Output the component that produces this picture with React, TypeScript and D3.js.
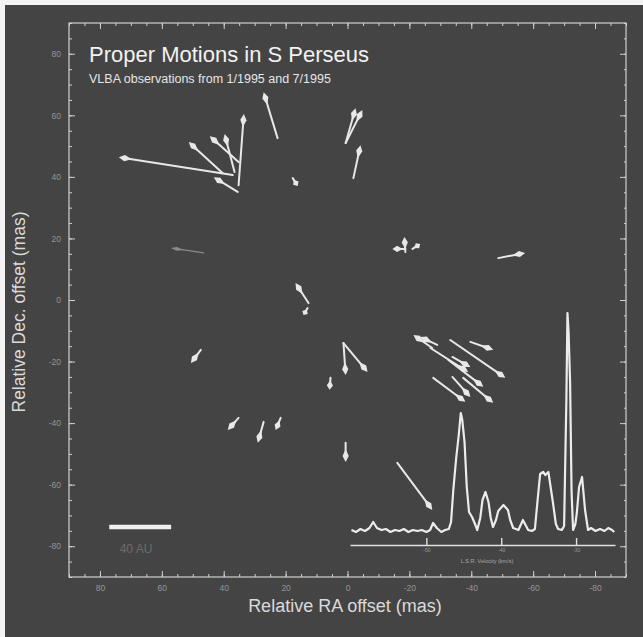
import React, { useEffect, useRef } from "react";
import * as d3 from "d3";

// ---- Proper motion vectors (mas): tail -> head ----
const tailRA = [37.1, 40.3, 35.2, 36.5, 35.2, 35.5, 22.6, 17.7, 0.6, 0.6, -1.9, 46.5, -18.7, -18.7, -21.0, -48.7, 12.6, 12.9, 47.4, 1.3, 1.3, 5.5, 35.2, 27.1, 21.6, 0.6, -27.4, -29.0, -26.8, -32.6, -33.2, -39.7, -33.9, -27.7, -33.9, -37.4, -16.1];
const tailDec = [40.6, 41.2, 44.8, 41.6, 37.3, 35.1, 52.6, 39.6, 51.0, 51.0, 39.6, 15.3, 15.6, 16.6, 16.6, 13.6, -1.0, -2.6, -16.2, -14.0, -14.0, -25.3, -38.3, -39.6, -38.3, -46.4, -15.6, -14.6, -15.6, -19.5, -13.0, -13.6, -18.5, -25.3, -25.0, -25.3, -52.9];
const headRA = [73.9, 51.3, 44.5, 39.7, 33.5, 43.2, 27.1, 16.1, -2.6, -4.8, -4.2, 57.1, -18.4, -14.5, -23.5, -57.4, 16.8, 14.2, 50.6, 0.6, -6.5, 5.8, 38.7, 29.0, 23.2, 0.6, -21.3, -23.5, -39.0, -43.9, -51.0, -47.1, -39.7, -38.1, -39.7, -47.1, -27.4];
const headDec = [46.4, 51.3, 53.2, 53.9, 60.4, 39.9, 67.5, 37.0, 62.3, 61.7, 50.3, 16.9, 20.5, 16.6, 18.2, 15.3, 5.5, -4.9, -20.5, -24.4, -23.4, -29.2, -42.2, -46.4, -42.2, -52.6, -11.4, -12.0, -23.4, -28.2, -25.3, -16.2, -21.8, -33.1, -31.5, -33.4, -68.2];
const faintArrow = [11];

// ---- Axis ticks ----
const majorTicks = [-80, -60, -40, -20, 0, 20, 40, 60, 80];
const minorTicks = d3.range(-90, 91, 5);

// ---- Inset H2O maser spectrum ----
const specVelocity = [-60.0, -59.4, -58.8, -58.2, -57.6, -57.1, -56.6, -56.0, -55.4, -54.8, -54.2, -53.6, -53.0, -52.4, -51.8, -51.2, -50.6, -50.0, -49.5, -49.1, -48.6, -48.0, -47.5, -47.0, -46.7, -46.4, -46.0, -45.7, -45.4, -45.2, -44.9, -44.6, -44.3, -43.9, -43.5, -43.2, -42.8, -42.5, -42.1, -41.7, -41.4, -41.1, -40.7, -40.4, -39.7, -39.1, -38.8, -38.4, -37.7, -37.1, -36.4, -35.9, -35.5, -35.1, -34.8, -34.4, -34.1, -33.7, -33.4, -33.1, -32.7, -32.4, -31.9, -31.6, -31.3, -31.15, -31.0, -30.8, -30.6, -30.4, -30.1, -29.9, -29.6, -29.2, -28.8, -28.4, -28.0, -27.4, -26.8, -26.2, -25.7, -25.2, -24.9];
const specFlux = [2, 0, 3, 1, 4, 10, 4, 2, 3, 0, 2, 1, 3, 0, 2, 1, 2, 0, 2, 9, 4, 0, 2, 3, 10, 42, 75, 95, 119, 112, 90, 45, 20, 15, 8, 2, 14, 32, 40, 30, 14, 5, 12, 21, 27, 22, 12, 4, 2, 12, 2, 1, 3, 35, 58, 60, 57, 60, 45, 30, 8, 3, 2, 6, 130, 219, 200, 150, 40, 2, 8, 19, 45, 55, 22, 2, 4, 1, 3, 1, 4, 2, 0];
const velTicks = [-50, -40, -30];

export default function App() {
  const ref = useRef<SVGSVGElement | null>(null);

  useEffect(() => {
    const svg = d3.select(ref.current);
    svg.selectAll("*").remove();
    const W = 643, H = 637;
    const font = "'Liberation Sans', Arial, Helvetica, sans-serif";

    svg.append("rect").attr("width", W).attr("height", H).attr("fill", "#f4f4f4");
    svg.append("rect").attr("x", 5).attr("y", 5).attr("width", W - 5).attr("height", H - 5).attr("fill", "#444444");

    const x = d3.scaleLinear().domain([90, -90]).range([69, 626]);
    const y = d3.scaleLinear().domain([-90, 90]).range([577, 23]);

    const axisCol = "#cfcfcf";
    const labCol = "#959595";

    const addAxis = (axis: any, tx: number, ty: number, labels: boolean) => {
      const g = svg.append("g").attr("transform", `translate(${tx},${ty})`).call(axis);
      g.select(".domain").remove();
      g.selectAll("line").attr("stroke", axisCol).attr("stroke-width", 1);
      g.selectAll("text").attr("fill", labels ? labCol : "none").attr("font-size", 8.5).attr("font-family", font);
      return g;
    };
    const fmt = (d: any) => String(d);

    // bottom
    addAxis(d3.axisBottom(x).tickValues(majorTicks).tickSize(-6).tickPadding(8).tickFormat(fmt), 0, 577, true);
    addAxis(d3.axisBottom(x).tickValues(minorTicks).tickSize(-3).tickFormat(() => ""), 0, 577, false);
    // top
    addAxis(d3.axisTop(x).tickValues(majorTicks).tickSize(-6).tickFormat(() => ""), 0, 23, false);
    addAxis(d3.axisTop(x).tickValues(minorTicks).tickSize(-3).tickFormat(() => ""), 0, 23, false);
    // left
    addAxis(d3.axisLeft(y).tickValues(majorTicks).tickSize(-6).tickPadding(8).tickFormat(fmt), 69, 0, true);
    addAxis(d3.axisLeft(y).tickValues(minorTicks).tickSize(-3).tickFormat(() => ""), 69, 0, false);
    // right
    addAxis(d3.axisRight(y).tickValues(majorTicks).tickSize(-6).tickFormat(() => ""), 626, 0, false);
    addAxis(d3.axisRight(y).tickValues(minorTicks).tickSize(-2).tickFormat(() => ""), 626, 0, false);

    svg.append("rect").attr("x", 69).attr("y", 23).attr("width", 626 - 69).attr("height", 577 - 23)
      .attr("fill", "none").attr("stroke", axisCol).attr("stroke-width", 1.2);

    // titles
    svg.append("text").attr("x", 89).attr("y", 62).attr("font-family", font).attr("font-size", 22)
      .attr("fill", "#f2f2f2").text("Proper Motions in S Perseus");
    svg.append("text").attr("x", 89).attr("y", 83).attr("font-family", font).attr("font-size", 12.5)
      .attr("fill", "#e6e6e6").text("VLBA observations from 1/1995 and 7/1995");

    svg.append("text").attr("x", 345).attr("y", 612).attr("text-anchor", "middle").attr("font-family", font)
      .attr("font-size", 18).attr("fill", "#dadada").text("Relative RA offset (mas)");
    svg.append("text").attr("transform", "translate(25,312) rotate(-90)").attr("text-anchor", "middle")
      .attr("font-family", font).attr("font-size", 17.5).attr("fill", "#dadada").text("Relative Dec. offset (mas)");

    // scale bar
    svg.append("line").attr("x1", x(77)).attr("x2", x(57)).attr("y1", 527).attr("y2", 527)
      .attr("stroke", "#f0f0f0").attr("stroke-width", 4.5);
    svg.append("text").attr("x", 136).attr("y", 553).attr("text-anchor", "middle").attr("font-family", font)
      .attr("font-size", 12).attr("fill", "#6c6c6c").text("40 AU");

    // arrows
    const ag = svg.append("g");
    tailRA.forEach((_, i) => {
      const x0 = x(tailRA[i]), y0 = y(tailDec[i]), x1 = x(headRA[i]), y1 = y(headDec[i]);
      const faint = faintArrow.includes(i);
      const col = faint ? "#8a8a8a" : "#e8e8e8";
      const dx = x1 - x0, dy = y1 - y0;
      const len = Math.hypot(dx, dy) || 1;
      const ux = dx / len, uy = dy / len;
      const px = -uy, py = ux;
      const hl = Math.min(13, len * 0.8), hw = faint ? 2 : 3.1;
      ag.append("line").attr("x1", x0).attr("y1", y0).attr("x2", x1 - ux * hl * 0.5).attr("y2", y1 - uy * hl * 0.5)
        .attr("stroke", col).attr("stroke-width", faint ? 1.2 : 2).attr("stroke-linecap", "round");
      const pts = [
        [x1, y1],
        [x1 - ux * hl * 0.45 + px * hw, y1 - uy * hl * 0.45 + py * hw],
        [x1 - ux * hl, y1 - uy * hl],
        [x1 - ux * hl * 0.45 - px * hw, y1 - uy * hl * 0.45 - py * hw],
      ];
      ag.append("polygon").attr("points", pts.map((p) => p.join(",")).join(" ")).attr("fill", col);
    });

    // inset spectrum
    const vs = d3.scaleLinear().domain([-60.2, -24.8]).range([350, 615]);
    const fs = d3.scaleLinear().domain([0, 220]).range([532, 312]);
    const line = d3.line<number>().x((_, i) => vs(specVelocity[i])).y((d) => fs(d));
    svg.append("path").attr("d", line(specFlux) as string).attr("fill", "none").attr("stroke", "#ececec")
      .attr("stroke-width", 2.2).attr("stroke-linejoin", "round");

    const sg = svg.append("g").attr("transform", "translate(0,545)")
      .call(d3.axisBottom(vs).tickValues(velTicks).tickSize(-7).tickSizeOuter(0).tickPadding(3).tickFormat(fmt));
    sg.select(".domain").attr("stroke", "#e0e0e0").attr("stroke-width", 1.6);
    sg.selectAll("line").attr("stroke", "#e0e0e0").attr("stroke-width", 1.4);
    sg.selectAll("text").attr("fill", "#9a9a9a").attr("font-size", 5).attr("font-family", font);
    svg.append("text").attr("x", 487).attr("y", 563).attr("text-anchor", "middle").attr("font-family", font)
      .attr("font-size", 5.5).attr("fill", "#a8a8a8").text("L.S.R. Velocity (km/s)");
  }, []);

  return (
    <svg ref={ref} width={643} height={637} style={{ position: "absolute", left: 0, top: 0, display: "block" }} />
  );
}
